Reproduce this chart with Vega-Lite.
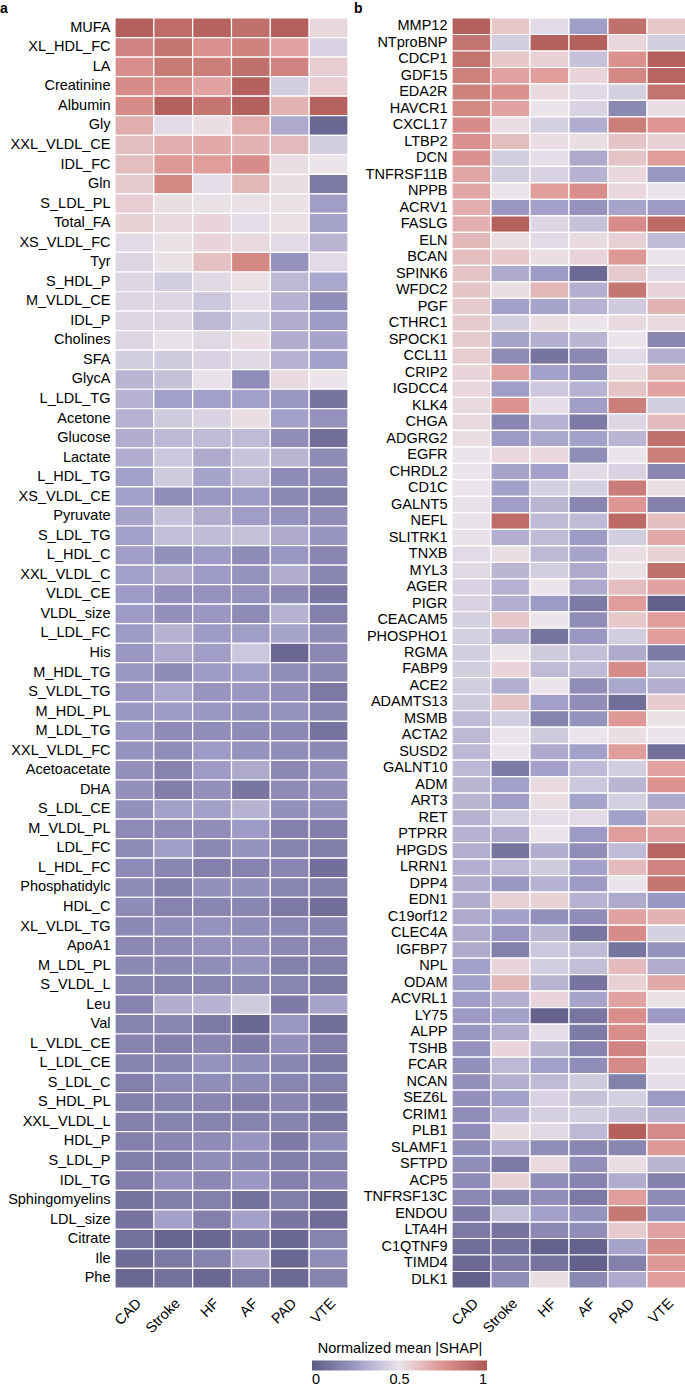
{
"$schema": "https://vega.github.io/schema/vega-lite/v6.json",
"padding": {"left": 0, "top": 2, "right": 0, "bottom": 0},
"background": "white",
"config": {"font": "Liberation Sans", "view": {"stroke": null}, "concat": {"spacing": 5},
  "axis": {"labelFontSize": 14.5, "labelColor": "#000", "ticks": false, "domain": false, "title": null, "labelLimit": 300}},
"datasets": {
"metab": [
{"f":"MUFA","CAD":0.97,"Stroke":0.92,"HF":0.96,"AF":0.9,"PAD":0.97,"VTE":0.54},
{"f":"XL_HDL_FC","CAD":0.82,"Stroke":0.88,"HF":0.76,"AF":0.83,"PAD":0.7,"VTE":0.44},
{"f":"LA","CAD":0.77,"Stroke":0.86,"HF":0.84,"AF":0.9,"PAD":0.82,"VTE":0.57},
{"f":"Creatinine","CAD":0.78,"Stroke":0.77,"HF":0.7,"AF":0.97,"PAD":0.42,"VTE":0.57},
{"f":"Albumin","CAD":0.78,"Stroke":0.97,"HF":0.88,"AF":0.97,"PAD":0.65,"VTE":0.96},
{"f":"Gly","CAD":0.67,"Stroke":0.47,"HF":0.52,"AF":0.67,"PAD":0.3,"VTE":0.05},
{"f":"XXL_VLDL_CE","CAD":0.62,"Stroke":0.67,"HF":0.68,"AF":0.65,"PAD":0.63,"VTE":0.42},
{"f":"IDL_FC","CAD":0.62,"Stroke":0.73,"HF":0.72,"AF":0.78,"PAD":0.52,"VTE":0.5},
{"f":"Gln","CAD":0.58,"Stroke":0.8,"HF":0.48,"AF":0.64,"PAD":0.52,"VTE":0.12},
{"f":"S_LDL_PL","CAD":0.57,"Stroke":0.52,"HF":0.51,"AF":0.51,"PAD":0.51,"VTE":0.26},
{"f":"Total_FA","CAD":0.56,"Stroke":0.53,"HF":0.55,"AF":0.48,"PAD":0.51,"VTE":0.28},
{"f":"XS_VLDL_FC","CAD":0.47,"Stroke":0.51,"HF":0.55,"AF":0.53,"PAD":0.47,"VTE":0.34},
{"f":"Tyr","CAD":0.45,"Stroke":0.51,"HF":0.61,"AF":0.8,"PAD":0.22,"VTE":0.47},
{"f":"S_HDL_P","CAD":0.45,"Stroke":0.42,"HF":0.46,"AF":0.51,"PAD":0.35,"VTE":0.29},
{"f":"M_VLDL_CE","CAD":0.45,"Stroke":0.45,"HF":0.4,"AF":0.48,"PAD":0.33,"VTE":0.2},
{"f":"IDL_P","CAD":0.45,"Stroke":0.45,"HF":0.35,"AF":0.42,"PAD":0.31,"VTE":0.25},
{"f":"Cholines","CAD":0.45,"Stroke":0.49,"HF":0.46,"AF":0.52,"PAD":0.31,"VTE":0.28},
{"f":"SFA","CAD":0.42,"Stroke":0.41,"HF":0.44,"AF":0.46,"PAD":0.33,"VTE":0.27},
{"f":"GlycA","CAD":0.34,"Stroke":0.38,"HF":0.49,"AF":0.2,"PAD":0.53,"VTE":0.5},
{"f":"L_LDL_TG","CAD":0.33,"Stroke":0.27,"HF":0.27,"AF":0.27,"PAD":0.24,"VTE":0.1},
{"f":"Acetone","CAD":0.33,"Stroke":0.41,"HF":0.44,"AF":0.52,"PAD":0.27,"VTE":0.22},
{"f":"Glucose","CAD":0.31,"Stroke":0.35,"HF":0.36,"AF":0.36,"PAD":0.2,"VTE":0.08},
{"f":"Lactate","CAD":0.31,"Stroke":0.4,"HF":0.3,"AF":0.39,"PAD":0.34,"VTE":0.19},
{"f":"L_HDL_TG","CAD":0.27,"Stroke":0.41,"HF":0.28,"AF":0.36,"PAD":0.19,"VTE":0.18},
{"f":"XS_VLDL_CE","CAD":0.27,"Stroke":0.2,"HF":0.24,"AF":0.25,"PAD":0.18,"VTE":0.14},
{"f":"Pyruvate","CAD":0.28,"Stroke":0.38,"HF":0.31,"AF":0.26,"PAD":0.22,"VTE":0.2},
{"f":"S_LDL_TG","CAD":0.27,"Stroke":0.37,"HF":0.36,"AF":0.38,"PAD":0.3,"VTE":0.23},
{"f":"L_HDL_C","CAD":0.26,"Stroke":0.21,"HF":0.25,"AF":0.19,"PAD":0.24,"VTE":0.17},
{"f":"XXL_VLDL_C","CAD":0.27,"Stroke":0.3,"HF":0.25,"AF":0.22,"PAD":0.31,"VTE":0.17},
{"f":"VLDL_CE","CAD":0.25,"Stroke":0.21,"HF":0.22,"AF":0.22,"PAD":0.18,"VTE":0.11},
{"f":"VLDL_size","CAD":0.25,"Stroke":0.21,"HF":0.24,"AF":0.19,"PAD":0.33,"VTE":0.15},
{"f":"L_LDL_FC","CAD":0.25,"Stroke":0.33,"HF":0.25,"AF":0.26,"PAD":0.28,"VTE":0.19},
{"f":"His","CAD":0.24,"Stroke":0.3,"HF":0.26,"AF":0.4,"PAD":0.05,"VTE":0.18},
{"f":"M_HDL_TG","CAD":0.24,"Stroke":0.19,"HF":0.25,"AF":0.26,"PAD":0.2,"VTE":0.18},
{"f":"S_VLDL_TG","CAD":0.24,"Stroke":0.29,"HF":0.23,"AF":0.24,"PAD":0.21,"VTE":0.12},
{"f":"M_HDL_PL","CAD":0.24,"Stroke":0.25,"HF":0.24,"AF":0.22,"PAD":0.22,"VTE":0.17},
{"f":"M_LDL_TG","CAD":0.24,"Stroke":0.19,"HF":0.2,"AF":0.19,"PAD":0.18,"VTE":0.1},
{"f":"XXL_VLDL_FC","CAD":0.22,"Stroke":0.2,"HF":0.25,"AF":0.22,"PAD":0.2,"VTE":0.18},
{"f":"Acetoacetate","CAD":0.21,"Stroke":0.16,"HF":0.25,"AF":0.3,"PAD":0.18,"VTE":0.21},
{"f":"DHA","CAD":0.21,"Stroke":0.14,"HF":0.21,"AF":0.11,"PAD":0.19,"VTE":0.2},
{"f":"S_LDL_CE","CAD":0.21,"Stroke":0.27,"HF":0.27,"AF":0.33,"PAD":0.21,"VTE":0.21},
{"f":"M_VLDL_PL","CAD":0.19,"Stroke":0.19,"HF":0.2,"AF":0.25,"PAD":0.15,"VTE":0.14},
{"f":"LDL_FC","CAD":0.19,"Stroke":0.26,"HF":0.18,"AF":0.22,"PAD":0.16,"VTE":0.14},
{"f":"L_HDL_FC","CAD":0.19,"Stroke":0.17,"HF":0.15,"AF":0.16,"PAD":0.17,"VTE":0.08},
{"f":"Phosphatidylc","CAD":0.19,"Stroke":0.15,"HF":0.21,"AF":0.21,"PAD":0.17,"VTE":0.15},
{"f":"HDL_C","CAD":0.19,"Stroke":0.16,"HF":0.17,"AF":0.17,"PAD":0.12,"VTE":0.08},
{"f":"XL_VLDL_TG","CAD":0.18,"Stroke":0.2,"HF":0.22,"AF":0.2,"PAD":0.18,"VTE":0.16},
{"f":"ApoA1","CAD":0.18,"Stroke":0.19,"HF":0.22,"AF":0.22,"PAD":0.18,"VTE":0.16},
{"f":"M_LDL_PL","CAD":0.18,"Stroke":0.18,"HF":0.2,"AF":0.22,"PAD":0.15,"VTE":0.14},
{"f":"S_VLDL_L","CAD":0.17,"Stroke":0.16,"HF":0.17,"AF":0.18,"PAD":0.17,"VTE":0.12},
{"f":"Leu","CAD":0.16,"Stroke":0.31,"HF":0.33,"AF":0.41,"PAD":0.13,"VTE":0.28},
{"f":"Val","CAD":0.16,"Stroke":0.17,"HF":0.13,"AF":0.05,"PAD":0.24,"VTE":0.08},
{"f":"L_VLDL_CE","CAD":0.16,"Stroke":0.15,"HF":0.17,"AF":0.13,"PAD":0.21,"VTE":0.14},
{"f":"L_LDL_CE","CAD":0.16,"Stroke":0.17,"HF":0.22,"AF":0.2,"PAD":0.17,"VTE":0.12},
{"f":"S_LDL_C","CAD":0.15,"Stroke":0.19,"HF":0.2,"AF":0.19,"PAD":0.17,"VTE":0.15},
{"f":"S_HDL_PL","CAD":0.15,"Stroke":0.16,"HF":0.17,"AF":0.14,"PAD":0.17,"VTE":0.13},
{"f":"XXL_VLDL_L","CAD":0.15,"Stroke":0.16,"HF":0.16,"AF":0.16,"PAD":0.16,"VTE":0.12},
{"f":"HDL_P","CAD":0.15,"Stroke":0.17,"HF":0.19,"AF":0.23,"PAD":0.13,"VTE":0.2},
{"f":"S_LDL_P","CAD":0.14,"Stroke":0.14,"HF":0.2,"AF":0.18,"PAD":0.14,"VTE":0.15},
{"f":"IDL_TG","CAD":0.14,"Stroke":0.22,"HF":0.18,"AF":0.24,"PAD":0.15,"VTE":0.17},
{"f":"Sphingomyelins","CAD":0.1,"Stroke":0.14,"HF":0.15,"AF":0.09,"PAD":0.14,"VTE":0.08},
{"f":"LDL_size","CAD":0.1,"Stroke":0.27,"HF":0.15,"AF":0.27,"PAD":0.11,"VTE":0.07},
{"f":"Citrate","CAD":0.09,"Stroke":0.04,"HF":0.05,"AF":0.11,"PAD":0.05,"VTE":0.16},
{"f":"Ile","CAD":0.07,"Stroke":0.12,"HF":0.16,"AF":0.3,"PAD":0.05,"VTE":0.2},
{"f":"Phe","CAD":0.05,"Stroke":0.09,"HF":0.05,"AF":0.12,"PAD":0.06,"VTE":0.16}
],
"prot": [
{"f":"MMP12","CAD":0.97,"Stroke":0.59,"HF":0.47,"AF":0.26,"PAD":0.9,"VTE":0.59},
{"f":"NTproBNP","CAD":0.89,"Stroke":0.42,"HF":0.97,"AF":0.97,"PAD":0.54,"VTE":0.42},
{"f":"CDCP1","CAD":0.89,"Stroke":0.59,"HF":0.56,"AF":0.38,"PAD":0.76,"VTE":0.97},
{"f":"GDF15","CAD":0.83,"Stroke":0.7,"HF":0.72,"AF":0.55,"PAD":0.8,"VTE":0.95},
{"f":"EDA2R","CAD":0.83,"Stroke":0.76,"HF":0.53,"AF":0.46,"PAD":0.43,"VTE":0.89},
{"f":"HAVCR1","CAD":0.8,"Stroke":0.7,"HF":0.5,"AF":0.44,"PAD":0.18,"VTE":0.52},
{"f":"CXCL17","CAD":0.78,"Stroke":0.52,"HF":0.43,"AF":0.31,"PAD":0.84,"VTE":0.74},
{"f":"LTBP2","CAD":0.76,"Stroke":0.62,"HF":0.52,"AF":0.52,"PAD":0.6,"VTE":0.56},
{"f":"DCN","CAD":0.76,"Stroke":0.42,"HF":0.48,"AF":0.3,"PAD":0.6,"VTE":0.72},
{"f":"TNFRSF11B","CAD":0.69,"Stroke":0.42,"HF":0.44,"AF":0.33,"PAD":0.54,"VTE":0.24},
{"f":"NPPB","CAD":0.69,"Stroke":0.5,"HF":0.72,"AF":0.77,"PAD":0.54,"VTE":0.5},
{"f":"ACRV1","CAD":0.67,"Stroke":0.24,"HF":0.27,"AF":0.22,"PAD":0.28,"VTE":0.25},
{"f":"FASLG","CAD":0.66,"Stroke":0.97,"HF":0.45,"AF":0.38,"PAD":0.78,"VTE":0.93},
{"f":"ELN","CAD":0.64,"Stroke":0.52,"HF":0.47,"AF":0.53,"PAD":0.56,"VTE":0.36},
{"f":"BCAN","CAD":0.62,"Stroke":0.59,"HF":0.52,"AF":0.55,"PAD":0.73,"VTE":0.5},
{"f":"SPINK6","CAD":0.6,"Stroke":0.3,"HF":0.25,"AF":0.06,"PAD":0.58,"VTE":0.47},
{"f":"WFDC2","CAD":0.6,"Stroke":0.52,"HF":0.64,"AF":0.32,"PAD":0.88,"VTE":0.55},
{"f":"PGF","CAD":0.58,"Stroke":0.27,"HF":0.28,"AF":0.33,"PAD":0.41,"VTE":0.65},
{"f":"CTHRC1","CAD":0.58,"Stroke":0.42,"HF":0.52,"AF":0.5,"PAD":0.53,"VTE":0.53},
{"f":"SPOCK1","CAD":0.58,"Stroke":0.28,"HF":0.32,"AF":0.34,"PAD":0.5,"VTE":0.17},
{"f":"CCL11","CAD":0.57,"Stroke":0.19,"HF":0.1,"AF":0.18,"PAD":0.47,"VTE":0.32},
{"f":"CRIP2","CAD":0.55,"Stroke":0.71,"HF":0.27,"AF":0.22,"PAD":0.53,"VTE":0.64},
{"f":"IGDCC4","CAD":0.54,"Stroke":0.26,"HF":0.4,"AF":0.33,"PAD":0.6,"VTE":0.7},
{"f":"KLK4","CAD":0.53,"Stroke":0.75,"HF":0.48,"AF":0.26,"PAD":0.84,"VTE":0.42},
{"f":"CHGA","CAD":0.53,"Stroke":0.17,"HF":0.33,"AF":0.12,"PAD":0.45,"VTE":0.63},
{"f":"ADGRG2","CAD":0.52,"Stroke":0.25,"HF":0.29,"AF":0.27,"PAD":0.34,"VTE":0.9},
{"f":"EGFR","CAD":0.5,"Stroke":0.54,"HF":0.54,"AF":0.2,"PAD":0.5,"VTE":0.84},
{"f":"CHRDL2","CAD":0.5,"Stroke":0.28,"HF":0.27,"AF":0.47,"PAD":0.44,"VTE":0.17},
{"f":"CD1C","CAD":0.5,"Stroke":0.27,"HF":0.43,"AF":0.43,"PAD":0.85,"VTE":0.52},
{"f":"GALNT5","CAD":0.49,"Stroke":0.26,"HF":0.34,"AF":0.17,"PAD":0.74,"VTE":0.15},
{"f":"NEFL","CAD":0.49,"Stroke":0.92,"HF":0.36,"AF":0.36,"PAD":0.93,"VTE":0.62},
{"f":"SLITRK1","CAD":0.49,"Stroke":0.32,"HF":0.36,"AF":0.25,"PAD":0.42,"VTE":0.68},
{"f":"TNXB","CAD":0.47,"Stroke":0.52,"HF":0.35,"AF":0.28,"PAD":0.52,"VTE":0.56},
{"f":"MYL3","CAD":0.46,"Stroke":0.34,"HF":0.42,"AF":0.3,"PAD":0.51,"VTE":0.9},
{"f":"AGER","CAD":0.44,"Stroke":0.33,"HF":0.5,"AF":0.3,"PAD":0.62,"VTE":0.7},
{"f":"PIGR","CAD":0.44,"Stroke":0.32,"HF":0.25,"AF":0.12,"PAD":0.72,"VTE":0.02},
{"f":"CEACAM5","CAD":0.43,"Stroke":0.59,"HF":0.5,"AF":0.2,"PAD":0.59,"VTE":0.72},
{"f":"PHOSPHO1","CAD":0.43,"Stroke":0.31,"HF":0.1,"AF":0.24,"PAD":0.42,"VTE":0.72},
{"f":"RGMA","CAD":0.42,"Stroke":0.5,"HF":0.41,"AF":0.37,"PAD":0.3,"VTE":0.13},
{"f":"FABP9","CAD":0.42,"Stroke":0.55,"HF":0.36,"AF":0.36,"PAD":0.78,"VTE":0.36},
{"f":"ACE2","CAD":0.42,"Stroke":0.32,"HF":0.5,"AF":0.2,"PAD":0.29,"VTE":0.32},
{"f":"ADAMTS13","CAD":0.41,"Stroke":0.6,"HF":0.27,"AF":0.2,"PAD":0.08,"VTE":0.58},
{"f":"MSMB","CAD":0.36,"Stroke":0.42,"HF":0.16,"AF":0.22,"PAD":0.73,"VTE":0.51},
{"f":"ACTA2","CAD":0.35,"Stroke":0.5,"HF":0.41,"AF":0.5,"PAD":0.52,"VTE":0.5},
{"f":"SUSD2","CAD":0.35,"Stroke":0.5,"HF":0.3,"AF":0.27,"PAD":0.72,"VTE":0.08},
{"f":"GALNT10","CAD":0.35,"Stroke":0.13,"HF":0.27,"AF":0.36,"PAD":0.42,"VTE":0.7},
{"f":"ADM","CAD":0.34,"Stroke":0.27,"HF":0.53,"AF":0.4,"PAD":0.34,"VTE":0.75},
{"f":"ART3","CAD":0.34,"Stroke":0.26,"HF":0.52,"AF":0.28,"PAD":0.43,"VTE":0.3},
{"f":"RET","CAD":0.33,"Stroke":0.43,"HF":0.48,"AF":0.47,"PAD":0.27,"VTE":0.64},
{"f":"PTPRR","CAD":0.33,"Stroke":0.3,"HF":0.5,"AF":0.25,"PAD":0.72,"VTE":0.7},
{"f":"HPGDS","CAD":0.32,"Stroke":0.1,"HF":0.31,"AF":0.2,"PAD":0.36,"VTE":0.95},
{"f":"LRRN1","CAD":0.32,"Stroke":0.35,"HF":0.41,"AF":0.27,"PAD":0.63,"VTE":0.82},
{"f":"DPP4","CAD":0.31,"Stroke":0.24,"HF":0.33,"AF":0.25,"PAD":0.5,"VTE":0.88},
{"f":"EDN1","CAD":0.31,"Stroke":0.56,"HF":0.56,"AF":0.33,"PAD":0.3,"VTE":0.24},
{"f":"C19orf12","CAD":0.3,"Stroke":0.27,"HF":0.21,"AF":0.2,"PAD":0.7,"VTE":0.65},
{"f":"CLEC4A","CAD":0.3,"Stroke":0.24,"HF":0.34,"AF":0.11,"PAD":0.78,"VTE":0.43},
{"f":"IGFBP7","CAD":0.3,"Stroke":0.15,"HF":0.4,"AF":0.36,"PAD":0.1,"VTE":0.22},
{"f":"NPL","CAD":0.27,"Stroke":0.55,"HF":0.42,"AF":0.37,"PAD":0.63,"VTE":0.31},
{"f":"ODAM","CAD":0.27,"Stroke":0.64,"HF":0.34,"AF":0.1,"PAD":0.56,"VTE":0.68},
{"f":"ACVRL1","CAD":0.26,"Stroke":0.32,"HF":0.55,"AF":0.28,"PAD":0.7,"VTE":0.51},
{"f":"LY75","CAD":0.25,"Stroke":0.27,"HF":0.03,"AF":0.11,"PAD":0.77,"VTE":0.25},
{"f":"ALPP","CAD":0.24,"Stroke":0.31,"HF":0.48,"AF":0.13,"PAD":0.77,"VTE":0.5},
{"f":"TSHB","CAD":0.22,"Stroke":0.55,"HF":0.34,"AF":0.16,"PAD":0.82,"VTE":0.52},
{"f":"FCAR","CAD":0.21,"Stroke":0.35,"HF":0.27,"AF":0.2,"PAD":0.79,"VTE":0.5},
{"f":"NCAN","CAD":0.21,"Stroke":0.32,"HF":0.36,"AF":0.41,"PAD":0.15,"VTE":0.48},
{"f":"SEZ6L","CAD":0.21,"Stroke":0.27,"HF":0.44,"AF":0.38,"PAD":0.43,"VTE":0.25},
{"f":"CRIM1","CAD":0.2,"Stroke":0.33,"HF":0.43,"AF":0.42,"PAD":0.38,"VTE":0.34},
{"f":"PLB1","CAD":0.2,"Stroke":0.52,"HF":0.46,"AF":0.35,"PAD":0.97,"VTE":0.79},
{"f":"SLAMF1","CAD":0.2,"Stroke":0.3,"HF":0.2,"AF":0.17,"PAD":0.17,"VTE":0.73},
{"f":"SFTPD","CAD":0.2,"Stroke":0.12,"HF":0.53,"AF":0.21,"PAD":0.52,"VTE":0.34},
{"f":"ACP5","CAD":0.19,"Stroke":0.56,"HF":0.2,"AF":0.16,"PAD":0.31,"VTE":0.15},
{"f":"TNFRSF13C","CAD":0.18,"Stroke":0.16,"HF":0.2,"AF":0.12,"PAD":0.72,"VTE":0.19},
{"f":"ENDOU","CAD":0.13,"Stroke":0.37,"HF":0.27,"AF":0.22,"PAD":0.87,"VTE":0.22},
{"f":"LTA4H","CAD":0.12,"Stroke":0.1,"HF":0.18,"AF":0.2,"PAD":0.58,"VTE":0.7},
{"f":"C1QTNF9","CAD":0.08,"Stroke":0.09,"HF":0.03,"AF":0.03,"PAD":0.28,"VTE":0.78},
{"f":"TIMD4","CAD":0.06,"Stroke":0.13,"HF":0.1,"AF":0.02,"PAD":0.15,"VTE":0.73},
{"f":"DLK1","CAD":0.02,"Stroke":0.2,"HF":0.52,"AF":0.18,"PAD":0.3,"VTE":0.72}
]
},
"hconcat": [
{
  "data": {"name": "metab"},
  "transform": [{"fold": ["CAD","Stroke","HF","AF","PAD","VTE"], "as": ["d","v"]}],
  "width": 233, "height": 1270,
  "title": {"text": "a", "anchor": "start", "frame": "group", "dx": -115, "fontSize": 14, "fontWeight": "bold", "color": "#000", "offset": 1},
  "mark": {"type": "rect", "stroke": "white", "strokeWidth": 1.2},
  "encoding": {
    "x": {"field": "d", "type": "nominal", "sort": ["CAD","Stroke","HF","AF","PAD","VTE"], "axis": {"labelAngle": -45, "labelAlign": "right", "labelBaseline": "top", "labelPadding": 8}},
    "y": {"field": "f", "type": "nominal", "sort": null, "axis": {"labelPadding": 5, "minExtent": 115, "maxExtent": 115}},
    "color": {"field": "v", "type": "quantitative",
      "scale": {"domain": [0, 0.25, 0.5, 0.75, 1], "range": ["#5d5a86", "#9d9bc6", "#ebe4eb", "#dd9390", "#ae5a56"], "interpolate": "rgb"},
      "legend": {"orient": "none", "legendX": 197, "legendY": 1324, "direction": "horizontal", "gradientLength": 175, "gradientThickness": 10,
        "title": "Normalized mean |SHAP|", "titleFontSize": 14.5, "titleFontWeight": "normal", "titleColor": "#000", "titleAnchor": "middle", "titleLimit": 400, "titlePadding": 4,
        "labelFontSize": 14.5, "labelColor": "#000", "values": [0, 0.5, 1], "format": "~g", "labelAlign": "center", "labelOffset": 2, "gradientStrokeWidth": 0}}
  }
},
{
  "data": {"name": "prot"},
  "transform": [{"fold": ["CAD","Stroke","HF","AF","PAD","VTE"], "as": ["d","v"]}],
  "width": 234, "height": 1270,
  "title": {"text": "b", "anchor": "start", "frame": "group", "dx": -98, "fontSize": 14, "fontWeight": "bold", "color": "#000", "offset": 1},
  "mark": {"type": "rect", "stroke": "white", "strokeWidth": 1.2},
  "encoding": {
    "x": {"field": "d", "type": "nominal", "sort": ["CAD","Stroke","HF","AF","PAD","VTE"], "axis": {"labelAngle": -45, "labelAlign": "right", "labelBaseline": "top", "labelPadding": 8}},
    "y": {"field": "f", "type": "nominal", "sort": null, "axis": {"labelPadding": 5, "minExtent": 98, "maxExtent": 98}},
    "color": {"field": "v", "type": "quantitative",
      "scale": {"domain": [0, 0.25, 0.5, 0.75, 1], "range": ["#5d5a86", "#9d9bc6", "#ebe4eb", "#dd9390", "#ae5a56"], "interpolate": "rgb"},
      "legend": {"orient": "none", "legendX": 197, "legendY": 1324, "direction": "horizontal", "gradientLength": 175, "gradientThickness": 10,
        "title": "Normalized mean |SHAP|", "titleFontSize": 14.5, "titleFontWeight": "normal", "titleColor": "#000", "titleAnchor": "middle", "titleLimit": 400, "titlePadding": 4,
        "labelFontSize": 14.5, "labelColor": "#000", "values": [0, 0.5, 1], "format": "~g", "labelAlign": "center", "labelOffset": 2, "gradientStrokeWidth": 0}}
  }
}
],
"resolve": {"scale": {"color": "shared"}}
}
